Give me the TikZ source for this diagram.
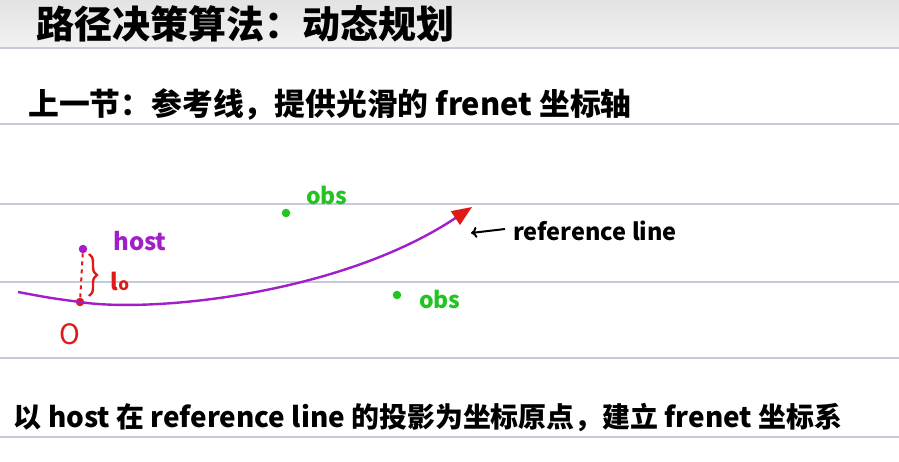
\documentclass[tikz,border=0pt]{standalone}
\usepackage{fontspec}
\newfontfamily\cjk{Noto Sans CJK SC}
\usetikzlibrary{arrows.meta,decorations.pathreplacing}
\definecolor{rule}{HTML}{C6CADD}
\definecolor{purp}{HTML}{A11EC8}
\definecolor{grn}{HTML}{22C422}
\definecolor{rd}{HTML}{E01818}
\tikzset{
  ruling/.style={draw=rule,line width=1.3pt},
  hand/.style={font=\cjk\bfseries,inner sep=0pt,anchor=center},
  dotnode/.style={circle,fill=#1,inner sep=0pt,minimum size=8.5pt},
}
\begin{document}
\begin{tikzpicture}[x=1pt,y=-1pt]
\useasboundingbox (0,0) rectangle (899,462);
\fill[white] (0,0) rectangle (899,462);
\shade[top color=black!11,bottom color=black!5] (0,0) rectangle (899,48);
% ruled lines
\foreach \yy in {48,124,204,282,358,437}{
  \draw[ruling] (0,\yy) -- (899,\yy);
}
% texts
\node[hand,font=\cjk\bfseries\fontsize{38}{42}\selectfont] (title) at (245,24) {路径决策算法：动态规划};
\node[hand,font=\cjk\bfseries\fontsize{30.8}{35}\selectfont] (prev) at (330,104) {上一节：参考线，提供光滑的 frenet 坐标轴};
\node[hand,font=\cjk\bfseries\fontsize{27.9}{32}\selectfont] (bottom) at (428,418) {以 host 在 reference line 的投影为坐标原点，建立 frenet 坐标系};
% curve
\coordinate (start) at (18,292);
\node[dotnode=rd] (O) at (80,302) {};
\coordinate (tip) at (472,207);
\draw[purp,line width=2.4pt,-{Triangle[color=rd,length=20pt,width=16pt]}]
  (start) .. controls (50,298) .. (O.center)
  .. controls (150,313) and (340,295) .. (tip);
% host
\node[dotnode=purp] (host) at (83,249) {};
\draw[rd,line width=2pt,dash pattern=on 4pt off 4pt] (host) -- (O);
\draw[rd,line width=2.4pt,decorate,decoration={brace,amplitude=8pt}] (89,254) -- (89,296);
\node[hand,text=purp,font=\cjk\bfseries\fontsize{24}{28}\selectfont] (hostlbl) at (140,241) {host};
\node[hand,text=rd,font=\cjk\bfseries\fontsize{23}{26}\selectfont] (l0) at (120,281) {l{\fontsize{17}{18}\selectfont o}};
\node[hand,text=rd,font=\cjk\fontsize{28}{30}\selectfont] (Olbl) at (70,334) {O};
% obstacles
\node[dotnode=grn] (obs1) at (286,213) {};
\node[hand,text=grn,font=\cjk\bfseries\fontsize{23}{26}\selectfont] (obs1lbl) at (327,195) {obs};
\node[dotnode=grn] (obs2) at (397,295) {};
\node[hand,text=grn,font=\cjk\bfseries\fontsize{23}{26}\selectfont] (obs2lbl) at (440,299) {obs};
% reference line label
\node[hand,font=\cjk\bfseries\fontsize{23.5}{28}\selectfont,anchor=west] (ref) at (513,231) {reference line};
\coordinate (refarrowend) at (471,233);
\draw[line width=2pt,-{To[length=6pt,width=11pt]}] ([xshift=-8pt,yshift=2pt]ref.west) -- (refarrowend);
\end{tikzpicture}
\end{document}
